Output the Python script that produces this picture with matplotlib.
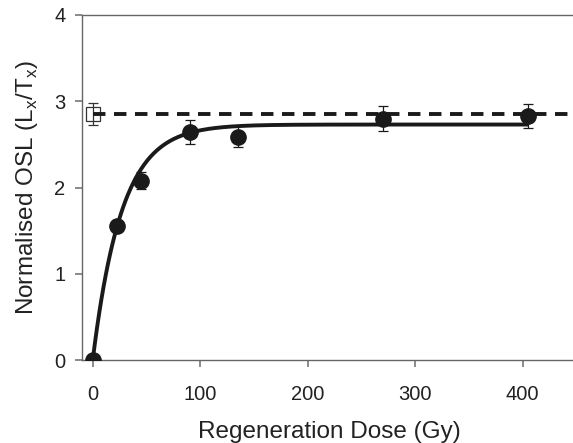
import numpy as np
import matplotlib
matplotlib.use('Agg')
import matplotlib.pyplot as plt

plt.rcParams['font.family'] = ['Liberation Sans', 'DejaVu Sans']
plt.rcParams['mathtext.fontset'] = 'custom'
plt.rcParams['mathtext.rm'] = 'Liberation Sans'

# 再生剂量点 (Gy) 与归一化信号
dose = [0, 22.5, 45, 90, 135, 270, 405]
lxtx = [0.0, 1.55, 2.08, 2.64, 2.59, 2.80, 2.83]
lxtx_err = [0.02, 0.05, 0.10, 0.14, 0.12, 0.14, 0.14]

# 自然信号 (空心方块) 与其误差
nat_dose = [0]
nat_lxtx = [2.85]
nat_err = [0.13]

# 饱和指数拟合参数
fit_max = 2.73
fit_d0 = 27.0

fig = plt.figure(figsize=(5.73, 4.43), dpi=100)
ax = fig.add_axes([82/573, 83/443, 494.5/573, 345/443])

# 拟合曲线
xf = np.linspace(0, dose[-1], 400)
ax.plot(xf, fit_max * (1 - np.exp(-xf / fit_d0)), color='#1a1a1a', lw=2.8,
        solid_capstyle='butt', zorder=2)

# 自然信号水平线
ax.plot([nat_dose[0], 450], [nat_lxtx[0], nat_lxtx[0]], color='#1a1a1a', lw=2.8,
        dashes=(3.2, 2.2), zorder=4)

ax.errorbar(dose, lxtx, yerr=lxtx_err, fmt='o', color='#1a1a1a', ms=11,
            ecolor='#1a1a1a', elinewidth=0.9, capsize=3.5, capthick=0.9, zorder=3)
ax.errorbar(nat_dose, nat_lxtx, yerr=nat_err, fmt='s', mfc='none', mec='#333333',
            mew=0.9, ms=10, ecolor='#333333', elinewidth=0.9, capsize=3.5,
            capthick=0.9, zorder=3)

ax.set_xlim(-10, 450)
ax.set_ylim(0, 4)
ax.set_xticks([0, 100, 200, 300, 400])
ax.set_yticks([0, 1, 2, 3, 4])

for s in ['left', 'bottom', 'top']:
    ax.spines[s].set_color('#666666')
    ax.spines[s].set_linewidth(1.0)
ax.spines['right'].set_visible(False)
ax.tick_params(axis='both', colors='#777777', labelcolor='#222222', labelsize=14.5,
               length=5, width=1.2)
ax.tick_params(axis='x', pad=13)
ax.tick_params(axis='y', pad=7)

ax.set_xlabel('Regeneration Dose (Gy)', fontsize=17.5, color='#222222', labelpad=12)
ax.set_ylabel(r'Normalised OSL (L$_\mathregular{x}$/T$_\mathregular{x}$)',
              fontsize=17.5, color='#222222', labelpad=10)

fig.savefig('out.png', dpi=100)
